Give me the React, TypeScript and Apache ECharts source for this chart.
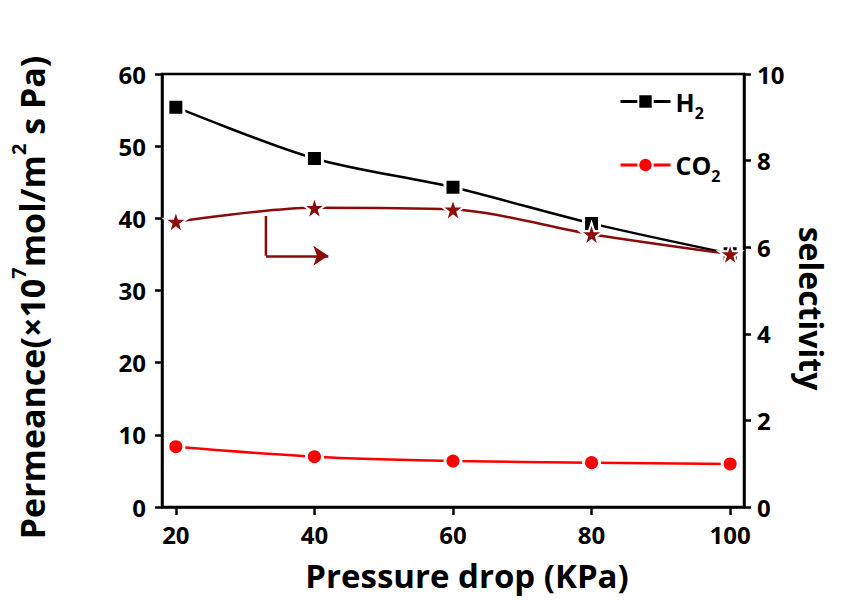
import React, { useEffect, useRef } from "react";
import * as echarts from "echarts";

const pressure = [20, 40, 60, 80, 100];
const h2Permeance = [55.4, 48.3, 44.3, 39.3, 35.1];
const co2Permeance = [8.35, 6.97, 6.37, 6.14, 5.96];
const selectivity = [6.59, 6.91, 6.87, 6.3, 5.84];
const xTicks = [20, 40, 60, 80, 100];
const arrowStem = [[33, 6.72], [33, 5.8]];
const arrowHead = [[33, 5.8], [42, 5.8]];

const FONT = "Open Sans";
const MAROON = "#8b0a0a";

export default function App() {
  const ref = useRef<HTMLDivElement>(null);
  useEffect(() => {
    if (!ref.current) return;
    const chart = echarts.init(ref.current, undefined, { renderer: "svg" });
    const pair = (ys: number[]) => pressure.map((x, i) => [x, ys[i]]);
    const axisLine = { show: true, lineStyle: { color: "#000", width: 2.5 } };
    const tickLabel = { color: "#000", fontFamily: FONT, fontWeight: "bold" as const, fontSize: 24 };
    chart.setOption({
      animation: false,
      backgroundColor: "#fff",
      grid: {
        left: 159,
        right: 105,
        top: 74,
        bottom: 93,
        show: true,
        borderColor: "#000",
        borderWidth: 2.5,
        backgroundColor: "transparent",
      },
      legend: {
        data: ["H2", "CO2"],
        orient: "vertical",
        left: 614,
        top: 84,
        itemWidth: 50,
        itemHeight: 18,
        itemGap: 32,
        lineStyle: { width: 3 },
        formatter: (name: string) =>
          name === "H2" ? "{b|H}{s|2}" : "{b|CO}{s|2}",
        textStyle: {
          rich: {
            b: { fontFamily: FONT, fontWeight: "bold", fontSize: 25, color: "#000" },
            s: { fontFamily: FONT, fontWeight: "bold", fontSize: 16, color: "#000", padding: [22, 0, 0, 0] },
          },
        },
      },
      xAxis: {
        type: "value",
        min: 18,
        max: 102,
        splitLine: { show: false },
        axisLine,
        axisTick: { show: true, length: 8, lineStyle: { color: "#000", width: 2.5 }, customValues: xTicks },
        axisLabel: { ...tickLabel, margin: 15, customValues: xTicks },
        name: "Pressure drop (KPa)",
        nameLocation: "middle",
        nameGap: 52,
        nameTextStyle: { fontFamily: FONT, fontWeight: "bold", fontSize: 33, color: "#000", padding: [0, 0, 0, 28] },
      },
      yAxis: [
        {
          type: "value",
          min: 0,
          max: 60,
          interval: 10,
          splitLine: { show: false },
          axisLine,
          axisTick: { show: true, length: 7, lineStyle: { color: "#000", width: 2.5 } },
          axisLabel: { ...tickLabel, margin: 16 },
          name: "{b|Permeance(×10}{sup|7}{b|mol/m}{sup|2}{b| s Pa)}",
          nameLocation: "middle",
          nameRotate: 90,
          nameGap: 106,
          nameTextStyle: {
            padding: [0, 14, 0, 0],
            rich: {
              b: { fontFamily: FONT, fontWeight: "bold", fontSize: 34, color: "#000" },
              sup: { fontFamily: FONT, fontWeight: "bold", fontSize: 20, color: "#000", padding: [0, 0, 28, 0] },
            },
          },
        },
        {
          type: "value",
          min: 0,
          max: 10,
          interval: 2,
          position: "right",
          splitLine: { show: false },
          axisLine,
          axisTick: { show: true, length: 7, lineStyle: { color: "#000", width: 2.5 } },
          axisLabel: { ...tickLabel, margin: 13 },
          name: "selectivity",
          nameLocation: "middle",
          nameRotate: -90,
          nameGap: 43,
          nameTextStyle: { fontFamily: FONT, fontWeight: "bold", fontSize: 32, color: "#000", padding: [0, 0, 0, 36] },
        },
      ],
      series: [
        {
          name: "H2",
          type: "line",
          data: pair(h2Permeance),
          smooth: 0.3,
          symbol: "rect",
          symbolSize: 16,
          lineStyle: { color: "#000", width: 2.5 },
          itemStyle: { color: "#000", borderColor: "#fff", borderWidth: 3 },
          z: 2,
        },
        {
          name: "selectivity",
          type: "line",
          yAxisIndex: 1,
          data: pair(selectivity),
          smooth: 0.3,
          symbol: "path://M50,0 L61.8,35.5 L100,35.5 L69.1,57.5 L80.9,95 L50,72 L19.1,95 L30.9,57.5 L0,35.5 L38.2,35.5 Z",
          symbolSize: 23,
          lineStyle: { color: MAROON, width: 2.5 },
          itemStyle: { color: MAROON, borderColor: "#fff", borderWidth: 2 },
          z: 3,
        },
        {
          name: "CO2",
          type: "line",
          data: pair(co2Permeance),
          smooth: 0.3,
          symbol: "circle",
          symbolSize: 16,
          lineStyle: { color: "#ff0000", width: 2.5 },
          itemStyle: { color: "#ff0000", borderColor: "#fff", borderWidth: 3 },
          z: 2,
        },
        {
          name: "arrowStem",
          type: "line",
          yAxisIndex: 1,
          data: arrowStem,
          showSymbol: false,
          symbol: "none",
          lineStyle: { color: MAROON, width: 2.5 },
          z: 2,
        },
        {
          name: "arrowHead",
          type: "lines",
          coordinateSystem: "cartesian2d",
          xAxisIndex: 0,
          yAxisIndex: 1,
          symbol: ["none", "arrow"],
          symbolSize: [1, 15],
          lineStyle: { color: MAROON, width: 2.5, opacity: 1 },
          data: [{ coords: arrowHead }],
          z: 2,
        },
      ],
    });
    return () => chart.dispose();
  }, []);
  return <div ref={ref} style={{ width: 849, height: 600, position: "absolute", left: 0, top: 0 }} />;
}
